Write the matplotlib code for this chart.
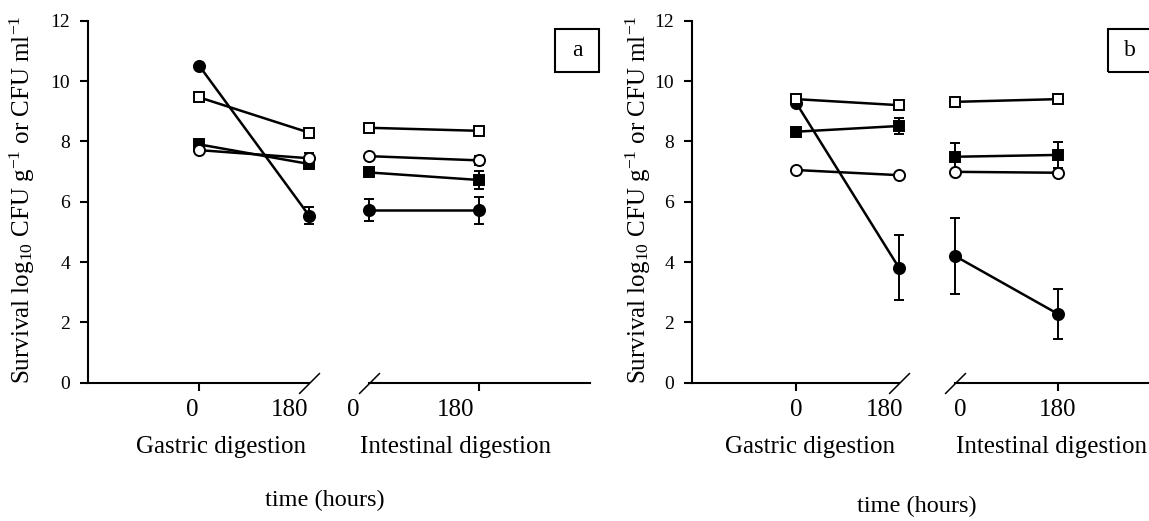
import matplotlib
matplotlib.use('Agg')
import matplotlib.pyplot as plt
from matplotlib.patches import Rectangle

plt.rcParams['font.family'] = ['Liberation Serif', 'DejaVu Serif']
plt.rcParams['mathtext.fontset'] = 'custom'
plt.rcParams['mathtext.rm'] = 'Liberation Serif'
plt.rcParams['mathtext.it'] = 'Liberation Serif:italic'

# x positions (minutes) of the two digestion phases, drawn with a broken axis
gastric_x = [0, 180]
intestinal_x = [278, 458]
tick_labels = ['0', '180', '0', '180']

# series order: filled circle, open square, filled square, open circle
markers = ['o', 's', 's', 'o']
faces = ['black', 'white', 'black', 'white']

# panel a
a_gastric_0 = [10.51, 9.46, 7.90, 7.71]
a_gastric_180 = [5.54, 8.29, 7.25, 7.44]
a_intest_0 = [5.72, 8.45, 6.97, 7.51]
a_intest_180 = [5.72, 8.35, 6.72, 7.37]
a_gastric_0_err = [0.05, 0.08, 0.08, 0.05]
a_gastric_180_err = [0.27, 0.08, 0.10, 0.18]
a_intest_0_err = [0.37, 0.05, 0.08, 0.08]
a_intest_180_err = [0.45, 0.08, 0.30, 0.15]

# panel b
b_gastric_0 = [9.28, 9.40, 8.32, 7.05]
b_gastric_180 = [3.81, 9.20, 8.51, 6.88]
b_intest_0 = [4.20, 9.31, 7.49, 6.99]
b_intest_180 = [2.28, 9.40, 7.55, 6.96]
b_gastric_0_err = [0.05, 0.05, 0.12, 0.05]
b_gastric_180_err = [1.08, 0.05, 0.27, 0.05]
b_intest_0_err = [1.25, 0.05, 0.46, 0.05]
b_intest_180_err = [0.83, 0.05, 0.42, 0.05]

W, H = 1149, 521
fig = plt.figure(figsize=(W / 100, H / 100), dpi=100)

XMIN, XMAX = -182, 640


def draw_panel(ax, g0, g180, i0, i180, g0e, g180e, i0e, i180e, label_dx):
    for k in range(4):
        style = dict(marker=markers[k], ms=8 if markers[k] == 'o' else 7.5,
                     mfc=faces[k], mec='black', mew=1.4, color='black', lw=1.8,
                     capsize=3.5, elinewidth=1.4, capthick=1.4, zorder=3)
        ax.errorbar(gastric_x, [g0[k], g180[k]], yerr=[g0e[k], g180e[k]], **style)
        ax.errorbar(intestinal_x, [i0[k], i180[k]], yerr=[i0e[k], i180e[k]], **style)

    ax.set_xlim(XMIN, XMAX)
    ax.set_ylim(0, 12)
    ax.set_yticks(range(0, 13, 2))
    for s in ['top', 'right', 'bottom']:
        ax.spines[s].set_visible(False)
    ax.spines['left'].set_linewidth(1.5)
    ax.tick_params(axis='y', length=6, width=1.5, pad=7, labelsize=14)

    # broken x axis
    ax.plot([XMIN, gastric_x[1]], [0, 0], color='black', lw=1.5, clip_on=False)
    ax.plot([intestinal_x[0], XMAX], [0, 0], color='black', lw=1.5, clip_on=False)
    ax.plot([gastric_x[1], intestinal_x[0]], [0, 0], ls='none', marker=[(-1, -1), (1, 1)],
            ms=15, mew=1.1, color='black', clip_on=False)
    ax.set_xticks([gastric_x[0], intestinal_x[1]])
    ax.tick_params(axis='x', length=6, width=1.5, labelbottom=False)
    for x, lbl, dx in zip(gastric_x + intestinal_x, tick_labels, label_dx):
        ax.annotate(lbl, xy=(x, 0), xycoords=('data', 'axes fraction'),
                    xytext=(dx * 0.72, -27 * 0.72), textcoords='offset points',
                    ha='center', va='center', fontsize=18, annotation_clip=False)


ax_a = fig.add_axes([88 / W, (H - 382.7) / H, 502 / W, 362 / H])
draw_panel(ax_a, a_gastric_0, a_gastric_180, a_intest_0, a_intest_180,
           a_gastric_0_err, a_gastric_180_err, a_intest_0_err, a_intest_180_err,
           [-7, -19, -16, -23])

ax_b = fig.add_axes([692 / W, (H - 382.7) / H, 470 / W, 362 / H])
draw_panel(ax_b, b_gastric_0, b_gastric_180, b_intest_0, b_intest_180,
           b_gastric_0_err, b_gastric_180_err, b_intest_0_err, b_intest_180_err,
           [0, -14, 5, 0])

ylabel = r'Survival log$_{10}$ CFU g$^{-1}$ or CFU ml$^{-1}$'
for x in [22, 638]:
    fig.text(x / W, 1 - 200 / H, ylabel, rotation=90, ha='center', va='center', fontsize=18)

for x, txt in [(221, 'Gastric digestion'), (456, 'Intestinal digestion'),
               (810, 'Gastric digestion'), (1051, 'Intestinal digestion')]:
    fig.text(x / W, 1 - 447 / H, txt, ha='center', va='center', fontsize=18)

fig.text(325 / W, 1 - 500 / H, 'time (hours)', ha='center', va='center', fontsize=17.5)
fig.text(917 / W, 1 - 506 / H, 'time (hours)', ha='center', va='center', fontsize=17.5)

# panel letters in boxes
for x0, letter in [(555, 'a'), (1108, 'b')]:
    fig.add_artist(Rectangle((x0 / W, 1 - 72 / H), 44 / W, 43 / H, transform=fig.transFigure,
                             fill=False, ec='black', lw=1.5))
    fig.text((x0 + 22) / W, 1 - 50 / H, letter, ha='center', va='center', fontsize=17)

fig.savefig('out.png', dpi=100)
plt.close()
